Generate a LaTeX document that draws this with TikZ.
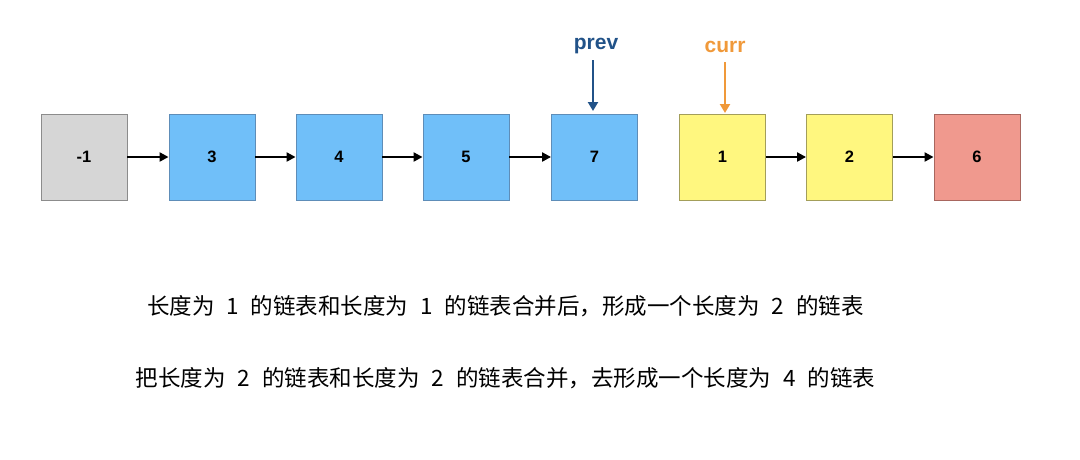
\documentclass[tikz,border=0pt]{standalone}
\usepackage{fontspec}
\setmainfont{Liberation Sans}
\newfontfamily\cjk{Noto Sans CJK SC}
\usetikzlibrary{arrows.meta}
\definecolor{cgrey}{HTML}{D6D6D6}
\definecolor{cgreyd}{HTML}{8C8C8C}
\definecolor{cblue}{HTML}{70BFF9}
\definecolor{cblued}{HTML}{5E8DB8}
\definecolor{cyel}{HTML}{FFF77F}
\definecolor{cyeld}{HTML}{A39E5A}
\definecolor{cred}{HTML}{F0998E}
\definecolor{credd}{HTML}{A8665E}
\definecolor{cprev}{HTML}{215288}
\definecolor{ccurr}{HTML}{F0993A}
\newcommand{\dg}[1]{\hspace{12pt}#1\hspace{12pt}}
\begin{document}
\begin{tikzpicture}[x=1pt,y=-1pt,
  box/.style={draw, line width=0.9pt, minimum width=86pt, minimum height=86pt, inner sep=0pt, font=\fontsize{16.5}{18}\selectfont\bfseries},
  gbox/.style={box, fill=cgrey, draw=cgreyd},
  bbox/.style={box, fill=cblue, draw=cblued},
  ybox/.style={box, fill=cyel, draw=cyeld},
  rbox/.style={box, fill=cred, draw=credd},
  link/.style={-{Triangle[length=9pt,width=9pt]}, line width=2.2pt, black},
  ptr/.style={-{Triangle[length=9pt,width=10pt]}, line width=2.2pt},
  lbl/.style={font=\fontsize{21}{24}\selectfont\bfseries, inner sep=0pt},
  cn/.style={font=\cjk\fontsize{22.5}{26}\selectfont, inner sep=0pt}]
\useasboundingbox (0,0) rectangle (1080,459);
\node[gbox] (n0) at (84,157) {-1};
\node[bbox] (n1) at (212,157) {3};
\node[bbox] (n2) at (339,157) {4};
\node[bbox] (n3) at (466,157) {5};
\node[bbox] (n4) at (594.5,157) {7};
\node[ybox] (n5) at (722.5,157) {1};
\node[ybox] (n6) at (849.5,157) {2};
\node[rbox] (n7) at (977,157) {6};
\draw[link] (n0) -- (n1);
\draw[link] (n1) -- (n2);
\draw[link] (n2) -- (n3);
\draw[link] (n3) -- (n4);
\draw[link] (n5) -- (n6);
\draw[link] (n6) -- (n7);
\node[lbl, text=cprev] (prev) at (596,46) {prev};
\node[lbl, text=ccurr] (curr) at (725,47) {curr};
\coordinate (pt) at (593,111);
\coordinate (ct) at (725,113);
\draw[ptr, cprev] (593,60) -- (pt);
\draw[ptr, ccurr] (725,62) -- (ct);
\node[cn] (t1) at (505.5,306) {长度为\dg{1}的链表和长度为\dg{1}的链表合并后，形成一个长度为\dg{2}的链表};
\node[cn] (t2) at (505.5,378) {把长度为\dg{2}的链表和长度为\dg{2}的链表合并，去形成一个长度为\dg{4}的链表};
\end{tikzpicture}
\end{document}
